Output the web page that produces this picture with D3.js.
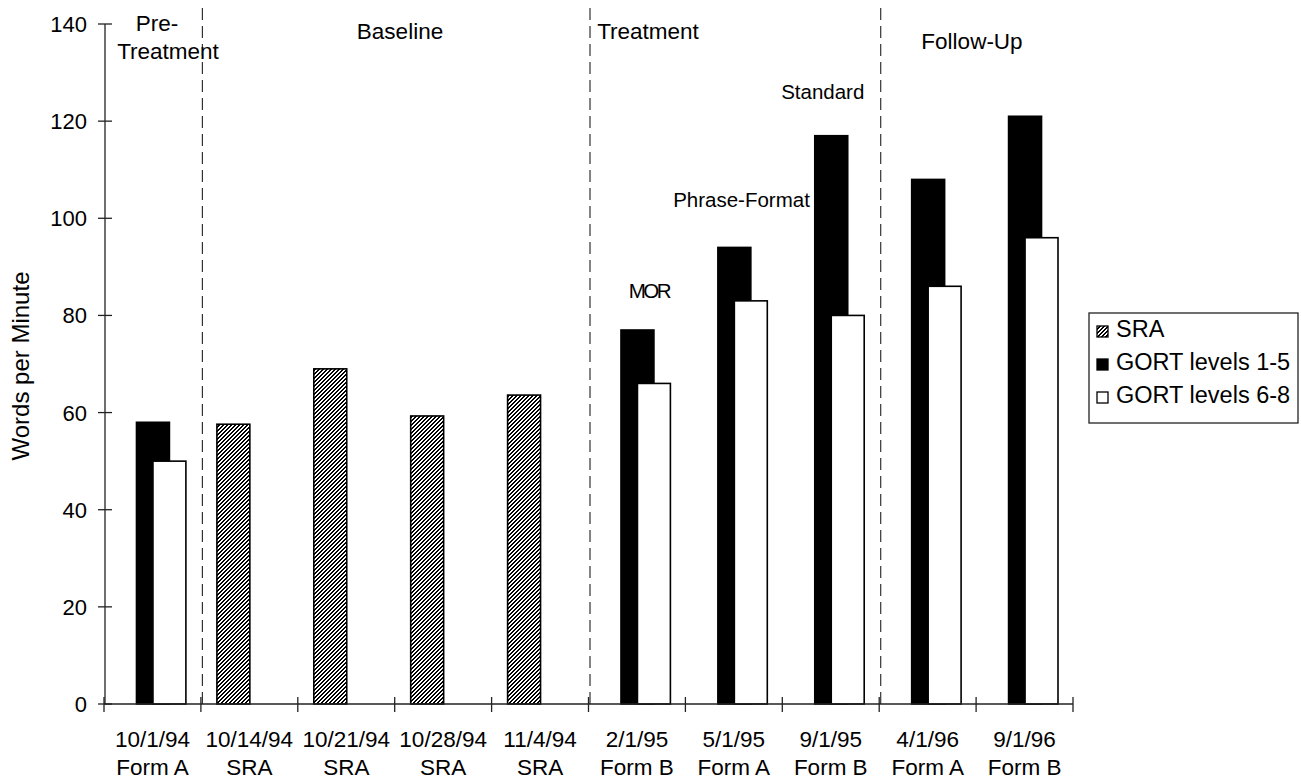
<!DOCTYPE html>
<html>
<head>
<meta charset="utf-8">
<script src="https://cdn.jsdelivr.net/npm/d3@7/dist/d3.min.js"></script>
<style>
  html, body { margin: 0; padding: 0; background: #fff; }
  svg { display: block; font-family: "Liberation Sans", Arial, sans-serif; }
</style>
</head>
<body>
<svg id="chart" width="1301" height="781"></svg>
<script>
// Test dates and forms (two-line category labels)
const dates = ["10/1/94", "10/14/94", "10/21/94", "10/28/94", "11/4/94",
               "2/1/95", "5/1/95", "9/1/95", "4/1/96", "9/1/96"];
const forms = ["Form A", "SRA", "SRA", "SRA", "SRA",
               "Form B", "Form A", "Form B", "Form A", "Form B"];

// Reading rate, words per minute (null = not tested)
const sra     = [null, 57.6, 69, 59.3, 63.6, null, null, null, null, null];
const gort15  = [58, null, null, null, null, 77, 94, 117, 108, 121];
const gort68  = [50, null, null, null, null, 66, 83, 80, 86, 96];

const yTicks = [0, 20, 40, 60, 80, 100, 120, 140];

// Phase headings
const phases = [
  { lines: ["Pre-", "Treatment"] },
  { lines: ["Baseline"] },
  { lines: ["Treatment"] },
  { lines: ["Follow-Up"] }
];
// first category of each new phase
const phaseBreaks = [1, 5, 8];

// Condition notes above treatment sessions
const notes = [
  { text: "MOR", at: 5 },
  { text: "Phrase-Format", at: 6 },
  { text: "Standard", at: 7 }
];

const legendItems = ["SRA", "GORT levels 1-5", "GORT levels 6-8"];

const svg = d3.select("#chart");
const plotL = 104, plotR = 1073, plotT = 24, plotB = 704;

const x = d3.scaleBand().domain(dates).range([plotL, plotR]).padding(0);
const y = d3.scaleLinear().domain([0, 140]).range([plotB, plotT]);
const bw = x.bandwidth();
const barW = bw * 0.34;
const step = barW / 2;

// Diagonal hatch for SRA bars (pixel-aligned so it stays crisp)
const defs = svg.append("defs");
const pat = defs.append("pattern")
  .attr("id", "hatch").attr("patternUnits", "userSpaceOnUse")
  .attr("width", 4).attr("height", 4);
pat.append("rect").attr("width", 4).attr("height", 4).attr("fill", "#fff");
[[0, 3], [0, 0], [1, 2], [1, 3], [2, 1], [2, 2], [3, 0], [3, 1]].forEach(([r, c]) => {
  pat.append("rect").attr("x", c).attr("y", r).attr("width", 1).attr("height", 1)
    .attr("fill", "#000");
});

// Phase separators
svg.selectAll("line.phase").data(phaseBreaks).enter().append("line")
  .attr("class", "phase")
  .attr("x1", d => x(dates[d]) + 1.5).attr("x2", d => x(dates[d]) + 1.5)
  .attr("y1", 8).attr("y2", plotB)
  .attr("stroke", "#333").attr("stroke-width", 1.2)
  .attr("stroke-dasharray", "12,6");

// Bars
const series = [
  { values: sra, fill: "url(#hatch)", idx: 0 },
  { values: gort15, fill: "#000", idx: 1 },
  { values: gort68, fill: "#fff", idx: 2 }
];
series.forEach(s => {
  svg.append("g").selectAll("rect")
    .data(s.values.map((v, i) => ({ v, cat: dates[i] })).filter(d => d.v !== null))
    .enter().append("rect")
    .attr("x", d => x(d.cat) + bw / 2 + (s.idx - 2) * step + 0.5)
    .attr("width", barW)
    .attr("y", d => y(d.v))
    .attr("height", d => y(0) - y(d.v))
    .attr("fill", s.fill)
    .attr("stroke", "#000").attr("stroke-width", 1.6);
});

// Y axis with crossing ticks
const yAxis = svg.append("g").attr("transform", `translate(${plotL + 1},0)`);
yAxis.append("line").attr("x1", 0).attr("x2", 0).attr("y1", plotT).attr("y2", plotB)
  .attr("stroke", "#222").attr("stroke-width", 1.3);
yAxis.selectAll("line.tk").data(yTicks).enter().append("line")
  .attr("x1", -7).attr("x2", 7).attr("y1", d => y(d)).attr("y2", d => y(d))
  .attr("stroke", "#222").attr("stroke-width", 1.3);
yAxis.selectAll("text").data(yTicks).enter().append("text")
  .attr("x", -18).attr("y", d => y(d) + 8)
  .attr("text-anchor", "end").attr("font-size", 22).text(d => d);

svg.append("text")
  .attr("transform", `translate(29,366) rotate(-90)`)
  .attr("text-anchor", "middle").attr("font-size", 24)
  .text("Words per Minute");

// X axis with crossing ticks at category boundaries
const xAxis = svg.append("g");
xAxis.append("line").attr("x1", plotL).attr("x2", plotR).attr("y1", plotB).attr("y2", plotB)
  .attr("stroke", "#222").attr("stroke-width", 1.3);
const bounds = dates.map(d => x(d)).concat([plotR]);
xAxis.selectAll("line.tk").data(bounds).enter().append("line")
  .attr("x1", d => d).attr("x2", d => d).attr("y1", plotB - 7).attr("y2", plotB + 8)
  .attr("stroke", "#222").attr("stroke-width", 1.3);
const xl = xAxis.selectAll("g.lab").data(dates).enter().append("g")
  .attr("transform", d => `translate(${x(d) + bw / 2},0)`);
xl.append("text").attr("y", 747).attr("text-anchor", "middle").attr("font-size", 22.5)
  .text(d => d);
xl.append("text").attr("y", 775).attr("text-anchor", "middle").attr("font-size", 22.5)
  .text((d, i) => forms[i]);

// Phase headings
const phasePos = [
  { x: [157, 168], y: [31, 59] },
  { x: [400], y: [39] },
  { x: [648], y: [39] },
  { x: [972], y: [49] }
];
phases.forEach((p, pi) => {
  p.lines.forEach((ln, li) => {
    svg.append("text")
      .attr("x", phasePos[pi].x[li])
      .attr("y", phasePos[pi].y[li])
      .attr("text-anchor", "middle").attr("font-size", 22.5)
      .text(ln);
  });
});

// Condition notes
const noteOpts = [
  { dx: 12, y: 298, anchor: "middle", ls: -2.5 },
  { dx: 76, y: 207, anchor: "end", ls: 0 },
  { dx: -8, y: 99, anchor: "middle", ls: 0 }
];
notes.forEach((n, i) => {
  const o = noteOpts[i];
  svg.append("text")
    .attr("x", x(dates[n.at]) + bw / 2 + o.dx)
    .attr("y", o.y)
    .attr("text-anchor", o.anchor)
    .attr("letter-spacing", o.ls)
    .attr("font-size", 20.5)
    .text(n.text);
});

// Legend
const lg = svg.append("g").attr("transform", "translate(1089,313)");
lg.append("rect").attr("width", 209).attr("height", 110)
  .attr("fill", "#fff").attr("stroke", "#222").attr("stroke-width", 1.3);
const fills = ["url(#hatch)", "#000", "#fff"];
legendItems.forEach((t, i) => {
  const by = 24 + i * 33;
  lg.append("rect").attr("x", 8).attr("y", by - 11).attr("width", 11).attr("height", 11)
    .attr("fill", fills[i]).attr("stroke", "#000").attr("stroke-width", 1.3);
  lg.append("text").attr("x", 27).attr("y", by).attr("font-size", 23.5).text(t);
});
</script>
</body>
</html>
